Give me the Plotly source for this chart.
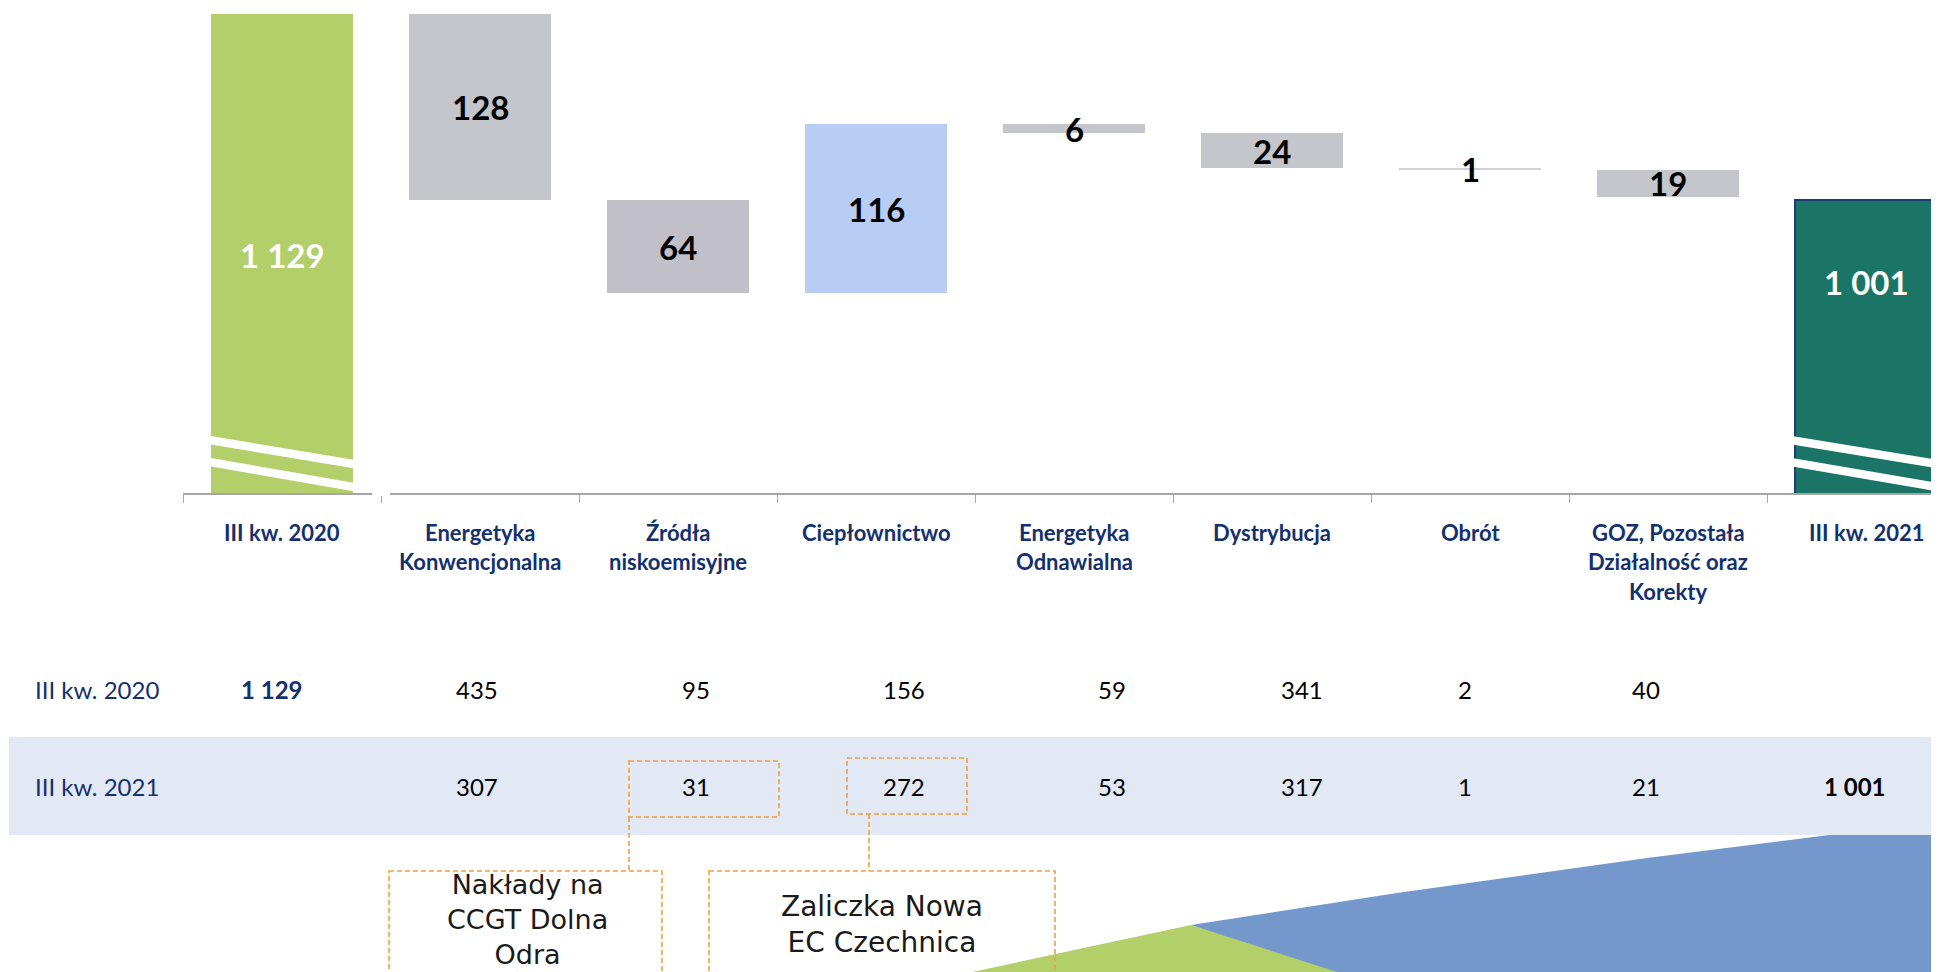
import plotly.graph_objects as go

# ---------------- data ----------------
cat_lines = [
    ["III kw. 2020"],
    ["Energetyka", "Konwencjonalna"],
    ["Źródła", "niskoemisyjne"],
    ["Ciepłownictwo"],
    ["Energetyka", "Odnawialna"],
    ["Dystrybucja"],
    ["Obrót"],
    ["GOZ, Pozostała", "Działalność oraz", "Korekty"],
    ["III kw. 2021"],
]
start_total = 1129
end_total = 1001
deltas = [-128, -64, 116, -6, -24, -1, -19]

row_labels = ["III kw. 2020", "III kw. 2021"]
values_2020 = [1129, 435, 95, 156, 59, 341, 2, 40, None]
values_2021 = [None, 307, 31, 272, 53, 317, 1, 21, 1001]

note_1 = "Nakłady na<br>CCGT Dolna<br>Odra"
note_2 = "Zaliczka Nowa<br>EC Czechnica"

# ---------------- styling / layout helpers ----------------
OFF = 8  # page body margin
W, H = 1939 - OFF, 972 - OFF
PL, PR, PT, PB = 183, 1939, 14, 493   # plot area in page pixels
Y_MIN = 799.4
X_MAX = -0.5 + (PR - PL) / 198.0


def fx(px):
    return (px - PL) / (PR - PL)


def fy(py):
    return (PB - py) / (PB - PT)


def fmt(v):
    return f"{v:,}".replace(",", " ")


bar_colors = ["#b3cf69", "#c5c6cb", "#c1bfc7", "#b8cdf4", "#c5c6cb",
              "#c5c6cb", "#d2d2d4", "#c5c6cb", "#1b7566"]
NAVY = "#14306e"
ORANGE = "#f2a03d"
LABEL_FONT = "Lato, 'Open Sans', sans-serif"

# ---------------- bars ----------------
n = len(cat_lines)
xs = list(range(n))
bases, heights = [0], [start_total]
running = start_total
mids = [None]
for d in deltas:
    new = running + d
    b = min(running, new)
    bases.append(b)
    heights.append(abs(d))
    mids.append(b + abs(d) / 2)
    running = new
bases.append(0)
heights.append(end_total)
mids.append(None)

line_colors = ["rgba(0,0,0,0)"] * (n - 1) + ["#1f3a78"]
line_widths = [0] * (n - 1) + [2]

fig = go.Figure()
fig.add_trace(go.Bar(
    x=xs, y=heights, base=bases, width=0.717,
    marker=dict(color=bar_colors, line=dict(color=line_colors, width=line_widths)),
    hoverinfo="skip", showlegend=False,
))

annotations = []
shapes = []

# delta labels
for i, d in enumerate(deltas, start=1):
    annotations.append(dict(
        x=i, y=mids[i], xref="x", yref="y", text=f"<b>{abs(d)}</b>",
        showarrow=False, font=dict(family=LABEL_FONT, size=33, color="#000000"),
        xanchor="center", yanchor="middle"))

# total labels
annotations.append(dict(
    x=0, y=fy(255), xref="x", yref="paper", text=f"<b>{fmt(start_total)}</b>",
    showarrow=False, font=dict(family=LABEL_FONT, size=33, color="#ffffff"),
    xanchor="center", yanchor="middle"))
annotations.append(dict(
    x=n - 1, y=fy(282), xref="x", yref="paper", text=f"<b>{fmt(end_total)}</b>",
    showarrow=False, font=dict(family=LABEL_FONT, size=33, color="#ffffff"),
    xanchor="center", yanchor="middle"))

# category labels
for i, lines in enumerate(cat_lines):
    for j, ln in enumerate(lines):
        annotations.append(dict(
            x=i, y=fy(532 + j * 29.5), xref="x", yref="paper", text=f"<b>{ln}</b>",
            showarrow=False, font=dict(family=LABEL_FONT, size=22, color=NAVY),
            xanchor="center", yanchor="middle"))

# table band
shapes.append(dict(type="rect", xref="paper", yref="paper",
                   x0=fx(9), x1=fx(1945), y0=fy(737), y1=fy(835),
                   fillcolor="#e2e8f4", line=dict(width=0), layer="above"))

# table rows
col_px = [272, 477, 696, 904, 1112, 1302, 1465, 1646, 1855]
row_py = [689, 786]
for r, (lab, vals) in enumerate(zip(row_labels, [values_2020, values_2021])):
    annotations.append(dict(
        x=fx(33), y=fy(row_py[r]), xref="paper", yref="paper", text=lab,
        showarrow=False, font=dict(family=LABEL_FONT, size=24, color=NAVY),
        xanchor="left", yanchor="middle"))
    for c, v in enumerate(vals):
        if v is None:
            continue
        is_total = c in (0, n - 1)
        txt = f"<b>{fmt(v)}</b>" if is_total else fmt(v)
        col = NAVY if (is_total and r == 0) else "#000000"
        annotations.append(dict(
            x=fx(col_px[c]), y=fy(row_py[r]), xref="paper", yref="paper", text=txt,
            showarrow=False, font=dict(family=LABEL_FONT, size=24, color=col),
            xanchor="center", yanchor="middle"))

# bottom decoration
def ppath(pts):
    return "M " + " L ".join(f"{fx(a):.5f},{fy(b):.5f}" for a, b in pts) + " Z"

shapes.append(dict(type="path", xref="paper", yref="paper",
                   path=ppath([(1191, 925), (1397, 893), (1647, 858), (1829, 835),
                               (1945, 835), (1945, 980), (1347, 980)]),
                   fillcolor="#7498cc", line=dict(width=0), layer="above"))
shapes.append(dict(type="path", xref="paper", yref="paper",
                   path=ppath([(935, 980), (1191, 925), (1362, 980)]),
                   fillcolor="#b3cf69", line=dict(width=0), layer="above"))

# orange dashed callouts
dash = dict(color=ORANGE, width=1.6, dash="5px,3px")
for (x0, y0, x1, y1) in [(629, 761, 779, 817), (847, 758, 967, 814),
                         (389, 871, 662, 995), (709, 871, 1055, 995)]:
    shapes.append(dict(type="rect", xref="paper", yref="paper",
                       x0=fx(x0), x1=fx(x1), y0=fy(y0), y1=fy(y1),
                       line=dash, fillcolor="rgba(0,0,0,0)", layer="above"))
for (x0, y0, x1, y1) in [(629, 817, 629, 871), (869, 814, 869, 871)]:
    shapes.append(dict(type="line", xref="paper", yref="paper",
                       x0=fx(x0), x1=fx(x1), y0=fy(y0), y1=fy(y1),
                       line=dash, layer="above"))

annotations.append(dict(
    x=fx(527), y=fy(919), xref="paper", yref="paper", text=note_1,
    showarrow=False, font=dict(family="DejaVu Sans", size=27, color="#1a1a1a"),
    xanchor="center", yanchor="middle", align="center"))
annotations.append(dict(
    x=fx(882), y=fy(924), xref="paper", yref="paper", text=note_2,
    showarrow=False, font=dict(family="DejaVu Sans", size=28, color="#1a1a1a"),
    xanchor="center", yanchor="middle", align="center"))

# axis break marks (white slanted stripes) on total bars
for (xl, xr) in [(211, 355), (1792, 1939)]:
    for (yl, yr) in [(436, 460), (458, 483)]:
        shapes.append(dict(type="path", xref="paper", yref="paper",
                           path=ppath([(xl, yl), (xr, yr), (xr, yr + 8.5), (xl, yl + 8.5)]),
                           fillcolor="#ffffff", line=dict(width=0), layer="above"))
# gap in axis line
shapes.append(dict(type="rect", xref="paper", yref="paper",
                   x0=fx(372), x1=fx(390), y0=fy(489), y1=fy(496),
                   fillcolor="#ffffff", line=dict(width=0), layer="above"))

fig.update_layout(
    width=W, height=H,
    margin=dict(l=PL - OFF, r=W - (PR - OFF), t=PT - OFF, b=H - (PB - OFF), pad=0),
    paper_bgcolor="#ffffff", plot_bgcolor="#ffffff",
    xaxis=dict(range=[-0.5, X_MAX], showgrid=False, zeroline=False,
               tickmode="array", tickvals=[i - 0.5 for i in range(n + 1)],
               showticklabels=False, ticks="outside", ticklen=8, tickwidth=1.2,
               tickcolor="#a6a6a6", showline=True, linecolor="#a6a6a6", linewidth=2,
               fixedrange=True),
    yaxis=dict(range=[Y_MIN, start_total], visible=False, showgrid=False,
               zeroline=False, fixedrange=True),
    annotations=annotations, shapes=shapes,
    bargap=0, showlegend=False,
)

fig.write_html("out.html")
